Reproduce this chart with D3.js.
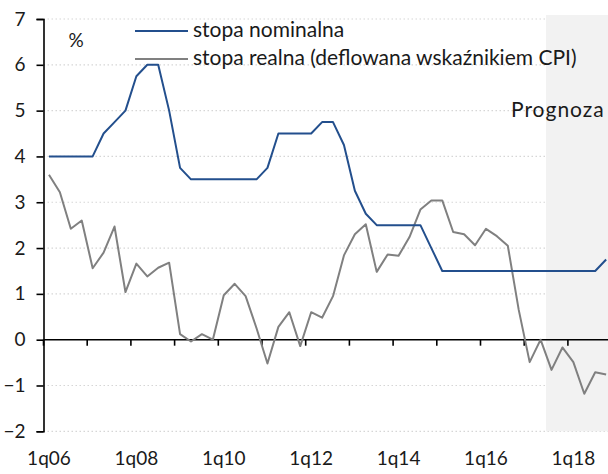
<!DOCTYPE html>
<html>
<head>
<meta charset="utf-8">
<script src="https://cdn.jsdelivr.net/npm/d3@7/dist/d3.min.js"></script>
<style>
  html, body { margin: 0; padding: 0; background: #fff; }
  svg { display: block; }
  text { font-family: Lato, "Open Sans", sans-serif; fill: #1a1a1a; }
</style>
</head>
<body>
<svg id="chart" width="608" height="474"></svg>
<script>
const categories = [
  "1q06","2q06","3q06","4q06","1q07","2q07","3q07","4q07",
  "1q08","2q08","3q08","4q08","1q09","2q09","3q09","4q09",
  "1q10","2q10","3q10","4q10","1q11","2q11","3q11","4q11",
  "1q12","2q12","3q12","4q12","1q13","2q13","3q13","4q13",
  "1q14","2q14","3q14","4q14","1q15","2q15","3q15","4q15",
  "1q16","2q16","3q16","4q16","1q17","2q17","3q17","4q17",
  "1q18","2q18","3q18","4q18"
];
const nominalRate = [
  4, 4, 4, 4, 4, 4.5, 4.75, 5,
  5.75, 6, 6, 5, 3.75, 3.5, 3.5, 3.5,
  3.5, 3.5, 3.5, 3.5, 3.75, 4.5, 4.5, 4.5,
  4.5, 4.75, 4.75, 4.25, 3.25, 2.75, 2.5, 2.5,
  2.5, 2.5, 2.5, 2.0, 1.5, 1.5, 1.5, 1.5,
  1.5, 1.5, 1.5, 1.5, 1.5, 1.5, 1.5, 1.5,
  1.5, 1.5, 1.5, 1.75
];
const realRate = [
  3.6, 3.22, 2.42, 2.6, 1.56, 1.9, 2.47, 1.04,
  1.66, 1.38, 1.57, 1.68, 0.12, -0.04, 0.12, 0.0,
  0.97, 1.22, 0.95, 0.25, -0.52, 0.28, 0.6, -0.14,
  0.6, 0.48, 0.95, 1.84, 2.3, 2.52, 1.48, 1.86,
  1.83, 2.24, 2.84, 3.04, 3.04, 2.35, 2.3, 2.06,
  2.42, 2.26, 2.05, 0.65, -0.49, 0.0, -0.66, -0.17,
  -0.49, -1.18, -0.71, -0.76
];
const yTicks = [-2, -1, 0, 1, 2, 3, 4, 5, 6, 7];
const xLabelCategories = ["1q06","1q08","1q10","1q12","1q14","1q16","1q18"];
const forecastStart = "3q17";
const seriesNames = ["stopa nominalna", "stopa realna (deflowana wskaźnikiem CPI)"];
const unitLabel = "%";
const forecastLabel = "Prognoza";

const svg = d3.select("#chart");
const W = 608, H = 474;
const left = 43.5, qw = 10.925;
const x = d3.scaleBand().domain(categories).range([left, left + categories.length * qw]).paddingInner(0).paddingOuter(0);
const y = d3.scaleLinear().domain([-2, 7]).range([431.3, 19]);
const cx = d => x(d) + x.bandwidth() / 2;

// gridlines
svg.append("g").selectAll("line").data(yTicks.filter(t => t !== 0)).join("line")
  .attr("x1", left).attr("x2", W)
  .attr("y1", d => y(d)).attr("y2", d => y(d))
  .attr("stroke", "#d6d6d6").attr("stroke-width", 1.2).attr("stroke-dasharray", "1.5,2.5");

// forecast shading
svg.append("rect")
  .attr("x", x(forecastStart)).attr("y", 15)
  .attr("width", W - x(forecastStart)).attr("height", y(-2) - 15)
  .attr("fill", "#f2f2f2");

// y axis
const yAxis = d3.axisLeft(y).tickValues(yTicks).tickSize(7).tickFormat(d3.format("d"));
const gy = svg.append("g").attr("transform", `translate(${left},0)`).call(yAxis);
gy.select(".domain").attr("stroke", "#000").attr("stroke-width", 1.6);
gy.selectAll(".tick line").attr("stroke", "#000").attr("stroke-width", 1.6);
gy.selectAll(".tick text").attr("x", -18).attr("font-size", 19).attr("fill", "#1a1a1a")
  .style("font-family", "Lato, sans-serif");

// x axis at zero
const yearTicks = categories.filter((c, i) => i % 4 === 0);
const gx = svg.append("g").attr("transform", `translate(0,${y(0)})`);
gx.append("line").attr("x1", left).attr("x2", W).attr("y1", 0).attr("y2", 0)
  .attr("stroke", "#000").attr("stroke-width", 1.6);
gx.selectAll("line.tk").data(yearTicks).join("line").attr("class", "tk")
  .attr("x1", d => x(d)).attr("x2", d => x(d)).attr("y1", 0).attr("y2", 6)
  .attr("stroke", "#000").attr("stroke-width", 1.6);

// x labels
svg.append("g").selectAll("text").data(xLabelCategories).join("text")
  .attr("x", d => cx(d)).attr("y", 465).attr("text-anchor", "middle")
  .attr("font-size", 19).text(d => d);

// lines
const line = d3.line().x((d, i) => cx(categories[i])).y(d => y(d));
svg.append("path").datum(realRate).attr("d", line)
  .attr("fill", "none").attr("stroke", "#808080").attr("stroke-width", 2).attr("stroke-linejoin", "round");
svg.append("path").datum(nominalRate).attr("d", line)
  .attr("fill", "none").attr("stroke", "#234f8d").attr("stroke-width", 2).attr("stroke-linejoin", "round");

// legend
const legendColors = ["#234f8d", "#808080"];
const legY = [31, 59];
seriesNames.forEach((n, i) => {
  svg.append("line").attr("x1", 135).attr("x2", 188).attr("y1", legY[i]).attr("y2", legY[i])
    .attr("stroke", legendColors[i]).attr("stroke-width", 2);
  svg.append("text").attr("x", 193).attr("y", legY[i] + 5.5).attr("font-size", 21).text(n);
});

svg.append("text").attr("x", 76).attr("y", 47).attr("text-anchor", "middle").attr("font-size", 19).text(unitLabel);
svg.append("text").attr("x", 511).attr("y", 117).attr("font-size", 21).attr("letter-spacing", 1).text(forecastLabel);
</script>
</body>
</html>
